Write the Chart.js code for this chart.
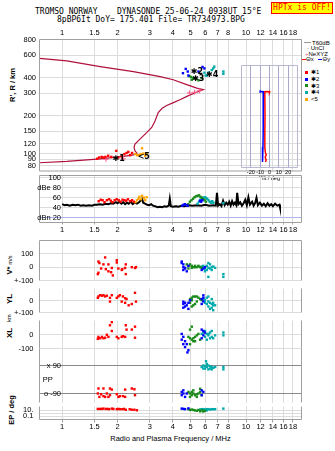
<!DOCTYPE html>
<html>
<head>
<meta charset="utf-8">
<title>Dynasonde ionogram</title>
<script src="https://cdn.jsdelivr.net/npm/chart.js@4.4.1/dist/chart.umd.min.js"></script>
<style>
  html, body { margin: 0; padding: 0; background: #fff; }
  body { position: relative; width: 335px; height: 451px; overflow: hidden;
         font-family: "Liberation Sans", Arial, sans-serif; color: #000; }
  canvas { position: absolute; left: 0; }
  .txt { position: absolute; white-space: pre; line-height: 1; }
  .mono { font-family: "DejaVu Sans Mono", monospace; font-size: 8px; }
  .vt { position: absolute; white-space: nowrap; line-height: 1; font-weight: bold; font-size: 7.5px;
        transform: translate(-50%, -50%) rotate(-90deg); }
  .hptx { position: absolute; left: 271px; top: 2px; width: 60px; height: 10px; border: 1px solid #f00;
          background: #ff0; color: #f00; font: 8px "DejaVu Sans Mono", monospace; line-height: 10px; text-align: center; }
  .leg { position: absolute; font-size: 6px; line-height: 1; white-space: nowrap; transform: translateY(-50%); }
  .sw { position: absolute; width: 3px; height: 3px; }
  .ln { position: absolute; height: 1px; }
</style>
</head>
<body>
<div class="txt mono" style="left:35px;top:8px">TROMSO NORWAY    DYNASONDE 25-06-24 0938UT 15°E</div>
<div class="txt mono" style="left:57px;top:16px">8pBP6It DoY= 175.401 File= TR734973.BPG</div>
<div class="hptx">HPTx is OFF!</div>

<div class="vt" style="left:13px;top:85px">R', R / km</div>
<div class="vt" style="left:10px;top:265px">V* <span style="font-size:5.5px;font-weight:normal">m/s</span></div>
<div class="vt" style="left:10px;top:299px;font-size:8px">YL</div>
<div class="vt" style="left:10px;top:318px;font-size:5.5px;font-weight:normal">km</div>
<div class="vt" style="left:10px;top:333px;font-size:8px">XL</div>
<div class="vt" style="left:12px;top:410px">EP / deg</div>
<div class="txt" style="left:170.5px;top:439px;font-size:7.5px;transform:translate(-50%,-50%)">Radio and Plasma Frequency / MHz</div>

<!-- legend -->
<div class="ln" style="left:304px;top:42px;width:7px;background:#999"></div>
<div class="leg" style="left:312px;top:42.7px">T60dB</div>
<div class="leg" style="left:307px;top:48.3px">·&nbsp;UnCl</div>
<div class="leg" style="left:305px;top:54px"><span style="color:#ff5c8a">+</span>NeXYZ</div>
<div class="ln" style="left:302px;top:59px;width:4px;background:#f00"></div>
<div class="leg" style="left:306px;top:59.3px">Θx</div>
<div class="ln" style="left:318px;top:59px;width:4px;background:#00f"></div>
<div class="leg" style="left:322.5px;top:59.3px">Θy</div>
<div class="sw" style="left:305px;top:71px;background:#f00"></div>
<div class="leg" style="left:311px;top:72.3px">✱1</div>
<div class="sw" style="left:305px;top:77.5px;background:#00f"></div>
<div class="leg" style="left:311px;top:79px">✱2</div>
<div class="sw" style="left:305px;top:84px;background:#1a8a1a"></div>
<div class="leg" style="left:311px;top:85.7px">✱3</div>
<div class="sw" style="left:305px;top:91px;background:#00aaaa"></div>
<div class="leg" style="left:311px;top:92.3px">✱4</div>
<div class="sw" style="left:305px;top:97.5px;background:#ffa500"></div>
<div class="leg" style="left:311px;top:99px">&lt;5</div>

<script>
// ---- axes ----
const FREQ_TICKS = [1, 1.5, 2, 3, 4, 5, 6, 7, 8, 10, 12, 14, 16, 18];
const HEIGHT_TICKS = [80, 90, 100, 120, 150, 200, 300, 400, 600, 800];
const TILT_TICKS = [-20, -10, 0, 10, 20];
const DB_TICKS = [20, 40, 60, 80, 100];
const DB_LABELS = ['dBn 20', '40', '60', 'dBe 80', '100'];
const V_TICKS = [100, 0, -100];
const V_LABELS = ['100', '0', '+-100'];
const YL_TICKS = [0, -100];
const YL_LABELS = ['0', '+-100'];
const XL_TICKS = [0, -100];
const XL_LABELS = ['0', '-100'];
const PP_TICKS = [90, 0, -90];
const PP_LABELS = ['x 90', 'PP', 'o -90'];
const EP_TICKS = [10, 1, 0.1];
const EP_LABELS = ['10.', '', '0.1'];

// ---- real-height profile [MHz, km]: bottomside to the F2 peak, then topside ----
const profile = [[0.753, 84.5], [1.06, 86.5], [1.61, 90.8], [1.98, 93.5], [2.2, 95.5], [2.44, 97.5],
  [2.55, 101], [2.49, 105], [2.46, 112], [2.49, 119], [2.65, 130], [2.89, 147], [3.07, 161],
  [3.2, 181], [3.33, 211], [3.5, 228], [3.7, 240], [4.0, 252], [4.4, 268], [4.8, 285], [5.3, 303],
  [5.86, 321], [5.4, 330], [4.76, 351], [4.02, 384], [3.41, 407], [2.44, 446], [1.61, 488],
  [1.06, 541], [0.753, 568]];
const neXYZ = [[1.73, 90], [2.15, 91], [4.92, 302], [5.25, 306], [5.57, 314]];

// ---- echoes: virtual range [MHz, km] ----
const redRange = [[1.55, 91], [1.59, 93], [1.64, 94], [1.68, 93], [1.72, 94], [1.78, 96], [1.85, 94],
  [1.97, 105], [2.02, 93], [2.11, 95], [2.18, 99], [2.24, 101], [2.29, 103], [2.34, 97], [2.4, 101]];
const blueRange = [[4.54, 433], [4.7, 468], [4.82, 446], [4.86, 415], [5.51, 446], [5.8, 485], [5.94, 472]];
const greenRange = [[4.9, 410], [5.03, 404], [5.07, 384], [5.17, 396], [5.33, 390], [5.51, 380], [5.74, 396]];
const cyanRange = [[5.94, 437], [6.03, 415], [6.12, 415], [6.24, 437], [6.51, 458], [6.63, 472],
  [6.72, 488], [7.53, 446], [7.53, 428]];
const orangeRange = [[2.5, 99], [2.56, 97], [2.62, 97], [2.68, 99], [2.72, 110], [2.77, 100], [2.83, 96], [2.88, 99]];
const tagText = ['✱1', '<5', '✱2', '✱3', '✱4'];
const tagF = [2.03, 2.78, 5.4, 5.5, 6.55];
const tagH = [91, 94, 445, 392, 418];

// ---- tilt profiles [km, deg] ----
const thetaX = [[318, 0.5], [310, 0], [313, -3], [312, -5], [290, -5], [200, -4.8], [150, -5],
  [115, -5], [104, -4.4], [100, -3.5], [96, -4.6], [91, -3.6], [88, -4.3]];
const thetaY = [[320, -10], [310, -10], [313, -8], [312, -6.5], [290, -6.8], [200, -6.8], [150, -6.7],
  [115, -7], [100, -7.2], [92, -7.8], [88, -7.5]];

// ---- amplitude [MHz, dB] ----
const dbTrace = [[1.0, 47], [1.03, 45], [1.06, 46], [1.1, 44], [1.14, 46], [1.18, 45], [1.22, 46],
  [1.26, 44], [1.3, 45], [1.35, 44], [1.4, 45], [1.45, 44], [1.5, 46], [1.55, 46], [1.6, 47],
  [1.66, 46], [1.72, 48], [1.78, 47], [1.84, 49], [1.9, 48], [1.96, 51], [2.0, 49], [2.05, 52],
  [2.1, 48], [2.15, 51], [2.2, 47], [2.25, 50], [2.3, 48], [2.36, 52], [2.42, 47], [2.48, 50],
  [2.55, 48], [2.62, 51], [2.68, 55], [2.72, 58], [2.76, 50], [2.82, 48], [2.9, 46], [2.98, 45],
  [3.05, 47], [3.12, 44], [3.2, 43], [3.3, 41], [3.4, 42], [3.5, 41], [3.6, 43], [3.7, 42],
  [3.8, 44], [3.85, 58], [3.9, 43], [4.0, 42], [4.15, 43], [4.3, 42], [4.45, 44], [4.6, 43],
  [4.75, 44], [4.9, 45], [5.1, 44], [5.4, 45], [5.7, 44], [6.0, 46], [6.3, 44], [6.6, 45],
  [6.85, 44], [6.95, 70], [7.05, 44], [7.2, 47], [7.35, 43], [7.5, 54], [7.65, 45], [7.8, 50],
  [7.95, 46], [8.1, 52], [8.25, 44], [8.4, 53], [8.55, 46], [8.7, 50], [8.85, 45], [8.95, 70],
  [9.1, 47], [9.3, 51], [9.5, 44], [9.7, 49], [9.9, 56], [10.1, 45], [10.3, 61], [10.5, 46],
  [10.8, 52], [11.0, 44], [11.2, 49], [11.4, 60], [11.6, 45], [11.9, 50], [12.2, 44], [12.5, 48],
  [12.8, 43], [13.1, 49], [13.4, 44], [13.7, 47], [14.0, 43], [14.4, 48], [14.8, 44], [15.2, 46], [15.3, 41]];
const redDb = [[1.58, 53], [1.62, 56], [1.66, 55], [1.7, 51], [1.75, 55], [1.8, 57], [1.84, 54],
  [1.88, 51], [1.93, 55], [1.98, 57], [2.03, 55], [2.08, 52], [2.13, 56], [2.18, 55], [2.23, 54],
  [2.28, 57], [2.34, 53], [2.4, 55], [2.45, 52]];
const orangeDb = [[2.5, 51], [2.55, 55], [2.6, 58], [2.63, 62], [2.68, 57], [2.72, 64], [2.78, 60], [2.83, 55], [2.88, 61]];
const blueDb = [[4.5, 44], [4.58, 46], [4.66, 47], [4.74, 45], [4.82, 44], [5.62, 54], [5.7, 52], [5.78, 55]];
const greenDb = [[4.85, 47], [4.95, 52], [5.05, 55], [5.15, 58], [5.25, 61], [5.35, 63], [5.45, 64],
  [5.55, 65], [5.65, 62], [5.75, 60], [5.85, 57], [5.95, 55], [6.05, 52]];
const cyanDb = [[5.45, 48], [5.55, 52], [5.65, 56], [5.75, 58], [5.85, 60], [5.95, 61], [6.05, 60],
  [6.15, 58], [6.25, 55], [6.35, 52], [6.45, 50], [6.55, 53], [6.65, 50], [7.53, 49]];

// ---- line-of-sight velocity V* [MHz, m/s] ----
const redV = [[1.713, 73], [1.575, 42], [1.594, 31], [1.677, 21], [1.785, 21], [1.982, 52], [1.982, 35],
  [2.218, 21], [2.392, 0], [2.49, -6], [2.52, 0], [1.629, -10], [1.728, -15], [1.862, -6], [1.785, -31],
  [1.846, -38], [1.575, -42], [1.563, -52], [2.022, -10], [2.124, -15], [2.2, -6], [2.108, -21],
  [1.886, -62], [2.218, -52]];
const blueV = [[4.47, 42], [4.47, 31], [4.56, 21], [4.56, 0], [4.66, -10], [4.56, -21], [4.76, -31],
  [4.66, -5], [4.86, 10], [5.86, -10], [5.98, 0], [5.74, -21]];
const greenV = [[4.76, 21], [4.86, 10], [4.96, 21], [5.07, 10], [5.17, 0], [5.28, 10], [5.4, 0],
  [5.51, 5], [5.63, 0], [5.74, -5], [4.86, -10], [5.07, -5], [5.28, 0], [5.51, 10]];
const cyanV = [[5.74, 5], [5.86, 0], [5.98, -10], [6.12, 10], [6.24, -5], [6.37, 21], [6.51, 0],
  [6.63, 5], [6.79, -5], [5.98, -31], [6.12, -21], [6.37, -10], [6.24, -73], [7.53, -52], [7.53, -73],
  [6.51, -21], [5.86, 10], [6.24, 31]];

// ---- echo location YL / XL [MHz, km] ----
const redYL = [[1.563, 22], [1.575, 34], [1.61, 44], [1.646, 40], [1.677, 44], [1.713, 34], [1.75, 40],
  [1.82, 22], [1.862, 44], [1.982, 22], [2.022, 34], [2.06, 44], [2.14, 34], [2.2, 19], [2.24, 12],
  [1.82, -9], [2.108, -9], [2.2, -19], [2.49, 64], [2.52, -9], [2.392, -29], [2.3, -40]];
const blueYL = [[4.56, -10], [4.66, -19], [4.56, -29], [4.76, -40], [4.66, -50], [4.86, -19], [4.96, 2],
  [4.56, -60], [4.86, -70], [5.86, 43], [5.86, 23], [5.74, 12], [5.86, -8], [5.74, -29]];
const greenYL = [[4.96, 12], [5.07, 23], [5.17, 33], [5.28, 33], [5.4, 33], [5.51, 23], [5.07, 2],
  [4.96, -19], [5.17, -40], [5.28, -29], [5.63, 12], [5.74, 2], [5.07, -50], [5.4, -8]];
const cyanYL = [[5.86, 12], [5.98, 2], [6.12, 23], [6.24, -8], [6.37, -19], [6.51, -29], [6.63, -40],
  [6.51, -60], [6.63, -81], [6.12, -29], [6.24, -50], [6.37, -70], [5.98, -19], [6.24, 33], [6.51, 12],
  [6.63, -19], [6.79, -40]];
const redXL = [[1.82, 66], [1.862, 88], [2.218, 66], [2.49, 56], [2.392, 35], [2.24, 35], [1.862, 25],
  [1.575, -17], [1.61, -27], [1.646, -17], [1.677, -27], [1.563, -31], [1.713, -23], [1.75, -2],
  [1.785, -17], [1.982, -17], [2.022, -27], [2.108, -17], [2.14, -12], [2.2, -17], [2.49, -23]];
const blueXL = [[4.47, 4], [4.56, -17], [4.47, -37], [4.66, -48], [4.56, -69], [4.66, -90], [4.76, -69],
  [5.74, 35], [5.86, 25], [5.86, -6], [5.74, -27], [5.98, 14], [4.86, -112], [4.8, -128]];
const greenXL = [[4.96, 35], [5.07, 56], [4.86, -17], [4.96, -27], [5.07, -37], [5.17, -27], [5.28, -17],
  [5.4, -6], [5.51, 4], [5.17, -48], [4.96, -69], [5.63, -37], [5.28, -48]];
const cyanXL = [[5.74, 4], [5.86, 14], [5.98, 25], [6.12, 4], [6.24, -6], [6.37, 14], [6.51, -17],
  [6.63, -27], [6.12, -37], [6.24, 4], [6.37, -27], [6.51, 25], [7.53, 14], [7.53, -6], [5.98, -17], [6.79, -6]];

// ---- polarization PP [MHz, deg] ----
const redPP = [[1.575, -58], [1.677, -58], [1.82, -58], [1.862, -65], [2.2, -65], [2.392, -58], [2.47, -63],
  [1.594, -112], [1.629, -95], [1.677, -107], [1.75, -90], [1.82, -101], [1.982, -95], [2.022, -112],
  [2.06, -107], [2.14, -107], [2.2, -112], [2.49, -101], [1.563, -90], [1.785, -112], [1.713, -112]];
const bluePP = [[4.47, -80], [4.56, -90], [4.47, -101], [4.66, -112], [4.56, -70], [5.74, -70], [5.86, -80],
  [5.74, -101], [4.76, -90]];
const greenPP = [[4.86, -80], [4.96, -90], [5.07, -101], [5.17, -90], [5.28, -101], [5.4, -95], [5.51, -90],
  [5.63, -80], [5.74, -101], [4.96, -112], [5.17, -70], [5.63, -60], [5.4, -112], [5.07, -80]];
const cyanPP = [[5.74, 80], [5.86, 90], [5.98, 70], [6.12, 80], [6.24, 90], [6.37, 70], [6.51, 80],
  [6.63, 75], [6.79, 80], [5.86, 70], [6.12, 100], [6.37, 85], [7.53, 80], [7.53, 65], [6.24, 65],
  [5.98, 85], [6.51, 65], [6.06, 117]];

// ---- phase error EP [MHz, deg] ----
const redEP = [[1.563, 24], [1.61, 24], [1.646, 24], [1.677, 30], [1.728, 24], [1.77, 24], [1.8, 20],
  [1.862, 30], [1.9, 24], [1.982, 20], [2.022, 24], [2.06, 20], [2.124, 20], [2.17, 24], [2.218, 13],
  [2.33, 20], [2.392, 13], [2.47, 13], [2.55, 9]];
const blueEP = [[4.47, 30], [4.66, 20], [4.56, 25], [4.86, 36]];
const greenEP = [[4.86, 20], [4.96, 11], [5.07, 15], [5.17, 11], [5.28, 8], [5.4, 6], [5.51, 11],
  [5.63, 4], [5.74, 8], [5.86, 3.5], [5.98, 6]];
const cyanEP = [[5.63, 15], [5.74, 20], [5.86, 20], [5.98, 15], [6.12, 20], [6.24, 20], [6.37, 15],
  [6.51, 20], [6.63, 20], [6.79, 20], [7.53, 30], [5.86, 6], [6.12, 8]];

// ---- layout ----
const W = 335, LEFT = 39.5, RIGHT = 301.5;
const F_MIN = 0.753, F_MAX = 20.03;
const GRID = '#dcdcdc', FRAME = '#a0a0a0';
const SANS = '"Liberation Sans", Arial, sans-serif';
const TICK_FONT = { family: SANS, size: 7.5 };
const RED = '#ff0000', BLUE = '#0000ff', GREEN = '#1a8a1a', CYAN = '#00aaaa', ORANGE = '#ffa500';

Chart.defaults.font.family = SANS;
Chart.defaults.color = '#000';
Chart.defaults.plugins.legend.display = false;
Chart.defaults.plugins.tooltip.enabled = false;

// outline around the plot area, only on the requested sides
const framePlugin = {
  id: 'frame',
  afterDatasetsDraw(chart, args, o) {
    if (!o.sides) return;
    const { left, right, top, bottom } = chart.chartArea;
    const ctx = chart.ctx;
    ctx.save();
    ctx.strokeStyle = o.color || FRAME;
    ctx.lineWidth = 1;
    ctx.beginPath();
    if (o.sides.includes('t')) { ctx.moveTo(left, top); ctx.lineTo(right, top); }
    if (o.sides.includes('b')) { ctx.moveTo(left, bottom); ctx.lineTo(right, bottom); }
    if (o.sides.includes('l')) { ctx.moveTo(left, top); ctx.lineTo(left, bottom); }
    if (o.sides.includes('r')) { ctx.moveTo(right, top); ctx.lineTo(right, bottom); }
    ctx.stroke();
    ctx.restore();
  }
};

// y labels printed inside the plot area
const innerLabels = {
  id: 'innerLabels',
  afterDraw(chart, args, o) {
    if (!o.values) return;
    const ctx = chart.ctx, y = chart.scales.y;
    ctx.save();
    ctx.font = '7.5px ' + SANS;
    ctx.fillStyle = '#000';
    ctx.textBaseline = 'middle';
    o.values.forEach((v, i) => {
      const special = o.leftAligned && o.leftAligned.includes(i);
      ctx.textAlign = special ? 'left' : 'right';
      ctx.fillText(o.labels[i], special ? o.leftX : o.rightX, y.getPixelForValue(v));
    });
    ctx.restore();
  }
};

// mode tags next to the echo groups
const modeTags = {
  id: 'modeTags',
  afterDatasetsDraw(chart, args, o) {
    if (!o.text) return;
    const ctx = chart.ctx, { x, y } = chart.scales;
    ctx.save();
    ctx.font = 'bold 8px "DejaVu Sans", sans-serif';
    ctx.fillStyle = '#000';
    ctx.textAlign = 'center';
    ctx.textBaseline = 'middle';
    o.text.forEach((t, i) => ctx.fillText(t, x.getPixelForValue(o.f[i]), y.getPixelForValue(o.h[i])));
    ctx.restore();
  }
};
Chart.register(framePlugin, innerLabels, modeTags);

const pts = arr => arr.map(([x, y]) => ({ x, y }));
const echoes = (data, color) => ({
  data: pts(data), backgroundColor: color, borderWidth: 0,
  pointStyle: 'rect', pointRadius: 1.7, showLine: false, clip: false
});

function freqScale(extra) {
  return Object.assign({
    type: 'logarithmic', min: F_MIN, max: F_MAX,
    afterBuildTicks: s => { s.ticks = FREQ_TICKS.map(v => ({ value: v })); },
    afterFit: s => { s.height = 0; },
    grid: { color: GRID, drawTicks: false },
    border: { display: false },
    ticks: { display: false }
  }, extra);
}
const freqLabels = (padding) => ({
  display: true, font: TICK_FONT, color: '#000', padding, autoSkip: false,
  maxRotation: 0, minRotation: 0, callback: v => String(v)
});

function yScale(type, min, max, values, labels, extra) {
  return Object.assign({
    type, min, max,
    afterBuildTicks: s => { s.ticks = values.map(v => ({ value: v })); },
    afterFit: s => { s.width = LEFT; },
    grid: { color: GRID, drawTicks: false },
    border: { display: false },
    ticks: labels
      ? { font: TICK_FONT, color: '#000', padding: 6, autoSkip: false, callback: (v, i) => labels[i] }
      : { display: false }
  }, extra);
}

// place one chart on its own canvas so that its plot area lands on the given box
function mount(box, config) {
  const above = box.above ?? 6, below = box.below ?? 6;
  const top = Math.floor(box.top - above);
  const height = Math.ceil(box.bottom + below) - top;
  const canvas = document.createElement('canvas');
  canvas.width = W;
  canvas.height = height;
  canvas.style.top = top + 'px';
  document.body.appendChild(canvas);
  Object.assign(config.options, {
    responsive: false, animation: false, devicePixelRatio: 1,
    layout: { padding: {
      top: box.top - top - (box.axisTop || 0),
      bottom: top + height - box.bottom - (box.axisBottom || 0),
      left: box.left ?? 0,
      right: W - (box.right ?? RIGHT)
    } }
  });
  return new Chart(canvas, config);
}

// ---- range panel ----
mount({ top: 39.5, bottom: 172.5, above: 16, axisTop: 14 }, {
  type: 'scatter',
  data: { datasets: [
    echoes(redRange, RED), echoes(orangeRange, ORANGE), echoes(blueRange, BLUE),
    echoes(greenRange, GREEN), echoes(cyanRange, CYAN),
    { data: pts(neXYZ), pointStyle: 'cross', pointRadius: 2.6, borderColor: '#ff5c8a', borderWidth: 1, showLine: false },
    { data: pts(profile), showLine: true, borderColor: '#b0103c', borderWidth: 1.2, pointRadius: 0, tension: 0 }
  ] },
  options: {
    scales: {
      x: freqScale({ position: 'top', afterFit: s => { s.height = 14; }, ticks: freqLabels(2) }),
      y: yScale('logarithmic', 72.7, 800, HEIGHT_TICKS, HEIGHT_TICKS.map(String),
        { ticks: { font: TICK_FONT, color: '#000', padding: 3.5, autoSkip: false, callback: v => String(v) } })
    },
    plugins: { frame: { sides: 'tlrb' }, modeTags: { text: tagText, f: tagF, h: tagH } }
  }
});

// ---- tilt inset ----
const tiltPts = arr => arr.map(([h, t]) => ({ x: t, y: h }));
mount({ top: 65.5, bottom: 167.5, below: 16, axisBottom: 14, left: 241.5, right: 297.5 }, {
  type: 'scatter',
  data: { datasets: [
    { data: tiltPts(thetaX), showLine: true, borderColor: RED, borderWidth: 1.5, pointRadius: 0 },
    { data: tiltPts(thetaY), showLine: true, borderColor: BLUE, borderWidth: 1.5, pointRadius: 0 }
  ] },
  options: {
    scales: {
      x: {
        type: 'linear', min: -30, max: 30,
        afterBuildTicks: s => { s.ticks = TILT_TICKS.map(v => ({ value: v })); },
        afterFit: s => { s.height = 14; },
        grid: { color: '#a8a8cc', drawTicks: false },
        border: { display: false },
        ticks: { font: { family: SANS, size: 5.5 }, color: '#000', padding: 1.5, autoSkip: false, maxRotation: 0 },
        title: { display: true, text: 'Tilt / deg', font: { family: SANS, size: 5.5 }, padding: 0 }
      },
      y: { type: 'logarithmic', min: 79.6, max: 500.6, display: false }
    },
    plugins: { frame: { sides: 'tlrb', color: '#b8b8d0' } }
  }
});

// ---- amplitude panel ----
mount({ top: 175.5, bottom: 222.5, below: 14, axisBottom: 12 }, {
  type: 'scatter',
  data: { datasets: [
    echoes(redDb, RED), echoes(orangeDb, ORANGE), echoes(blueDb, BLUE),
    echoes(greenDb, GREEN), echoes(cyanDb, CYAN),
    { data: pts(dbTrace), showLine: true, borderColor: '#000', borderWidth: 2, pointRadius: 0 }
  ] },
  options: {
    scales: {
      x: freqScale({
        afterFit: s => { s.height = 12; },
        grid: { color: GRID, drawTicks: true, tickLength: 2, tickColor: FRAME },
        ticks: freqLabels(1)
      }),
      y: yScale('linear', 10, 105, DB_TICKS, null, {
        grid: { drawTicks: false, color: c => (c.tick && c.tick.value === 20) ? '#b0b4ee' : GRID }
      })
    },
    plugins: { frame: { sides: 'tlrb' }, innerLabels: { values: DB_TICKS, labels: DB_LABELS, rightX: 61 } }
  }
});

// ---- stacked echo-parameter panels ----
function paramPanel(box, y, sets, frameSides, plugins, xExtra) {
  return mount(box, {
    type: 'scatter',
    data: { datasets: sets },
    options: {
      scales: { x: freqScale(xExtra || {}), y },
      plugins: Object.assign({ frame: { sides: frameSides } }, plugins || {})
    }
  });
}

paramPanel({ top: 236.5, bottom: 284.5 },
  yScale('linear', -100, 200, V_TICKS, V_LABELS),
  [echoes(redV, RED), echoes(blueV, BLUE), echoes(greenV, GREEN), echoes(cyanV, CYAN)], 'tlr');

paramPanel({ top: 284.5, bottom: 316.5 },
  yScale('linear', -100, 100, YL_TICKS, YL_LABELS),
  [echoes(redYL, RED), echoes(blueYL, BLUE), echoes(greenYL, GREEN), echoes(cyanYL, CYAN)], 'lr');

paramPanel({ top: 316.5, bottom: 348.5, below: 10 },
  yScale('linear', -100, 100, XL_TICKS, XL_LABELS),
  [echoes(redXL, RED), echoes(blueXL, BLUE), echoes(greenXL, GREEN), echoes(cyanXL, CYAN)], 'lr');

paramPanel({ top: 348.5, bottom: 402.5 },
  yScale('linear', -148, 199, PP_TICKS, null, {
    grid: { drawTicks: false, color: c => (c.tick && c.tick.value === 0) ? 'rgba(0,0,0,0)' : '#8a8a8a' }
  }),
  [echoes(redPP, RED), echoes(bluePP, BLUE), echoes(greenPP, GREEN), echoes(cyanPP, CYAN)], 'lr',
  { innerLabels: { values: PP_TICKS, labels: PP_LABELS, rightX: 61, leftX: 42.7, leftAligned: [1] } });

paramPanel({ top: 402.5, bottom: 419.5, below: 14, axisBottom: 12 },
  yScale('logarithmic', 0.009, 145, EP_TICKS, EP_LABELS),
  [echoes(redEP, RED), echoes(blueEP, BLUE), echoes(greenEP, GREEN), echoes(cyanEP, CYAN)], 'lrb', null,
  {
    afterFit: s => { s.height = 12; },
    grid: { color: GRID, drawTicks: true, tickLength: 3, tickColor: FRAME },
    ticks: freqLabels(0)
  });
</script>
</body>
</html>
